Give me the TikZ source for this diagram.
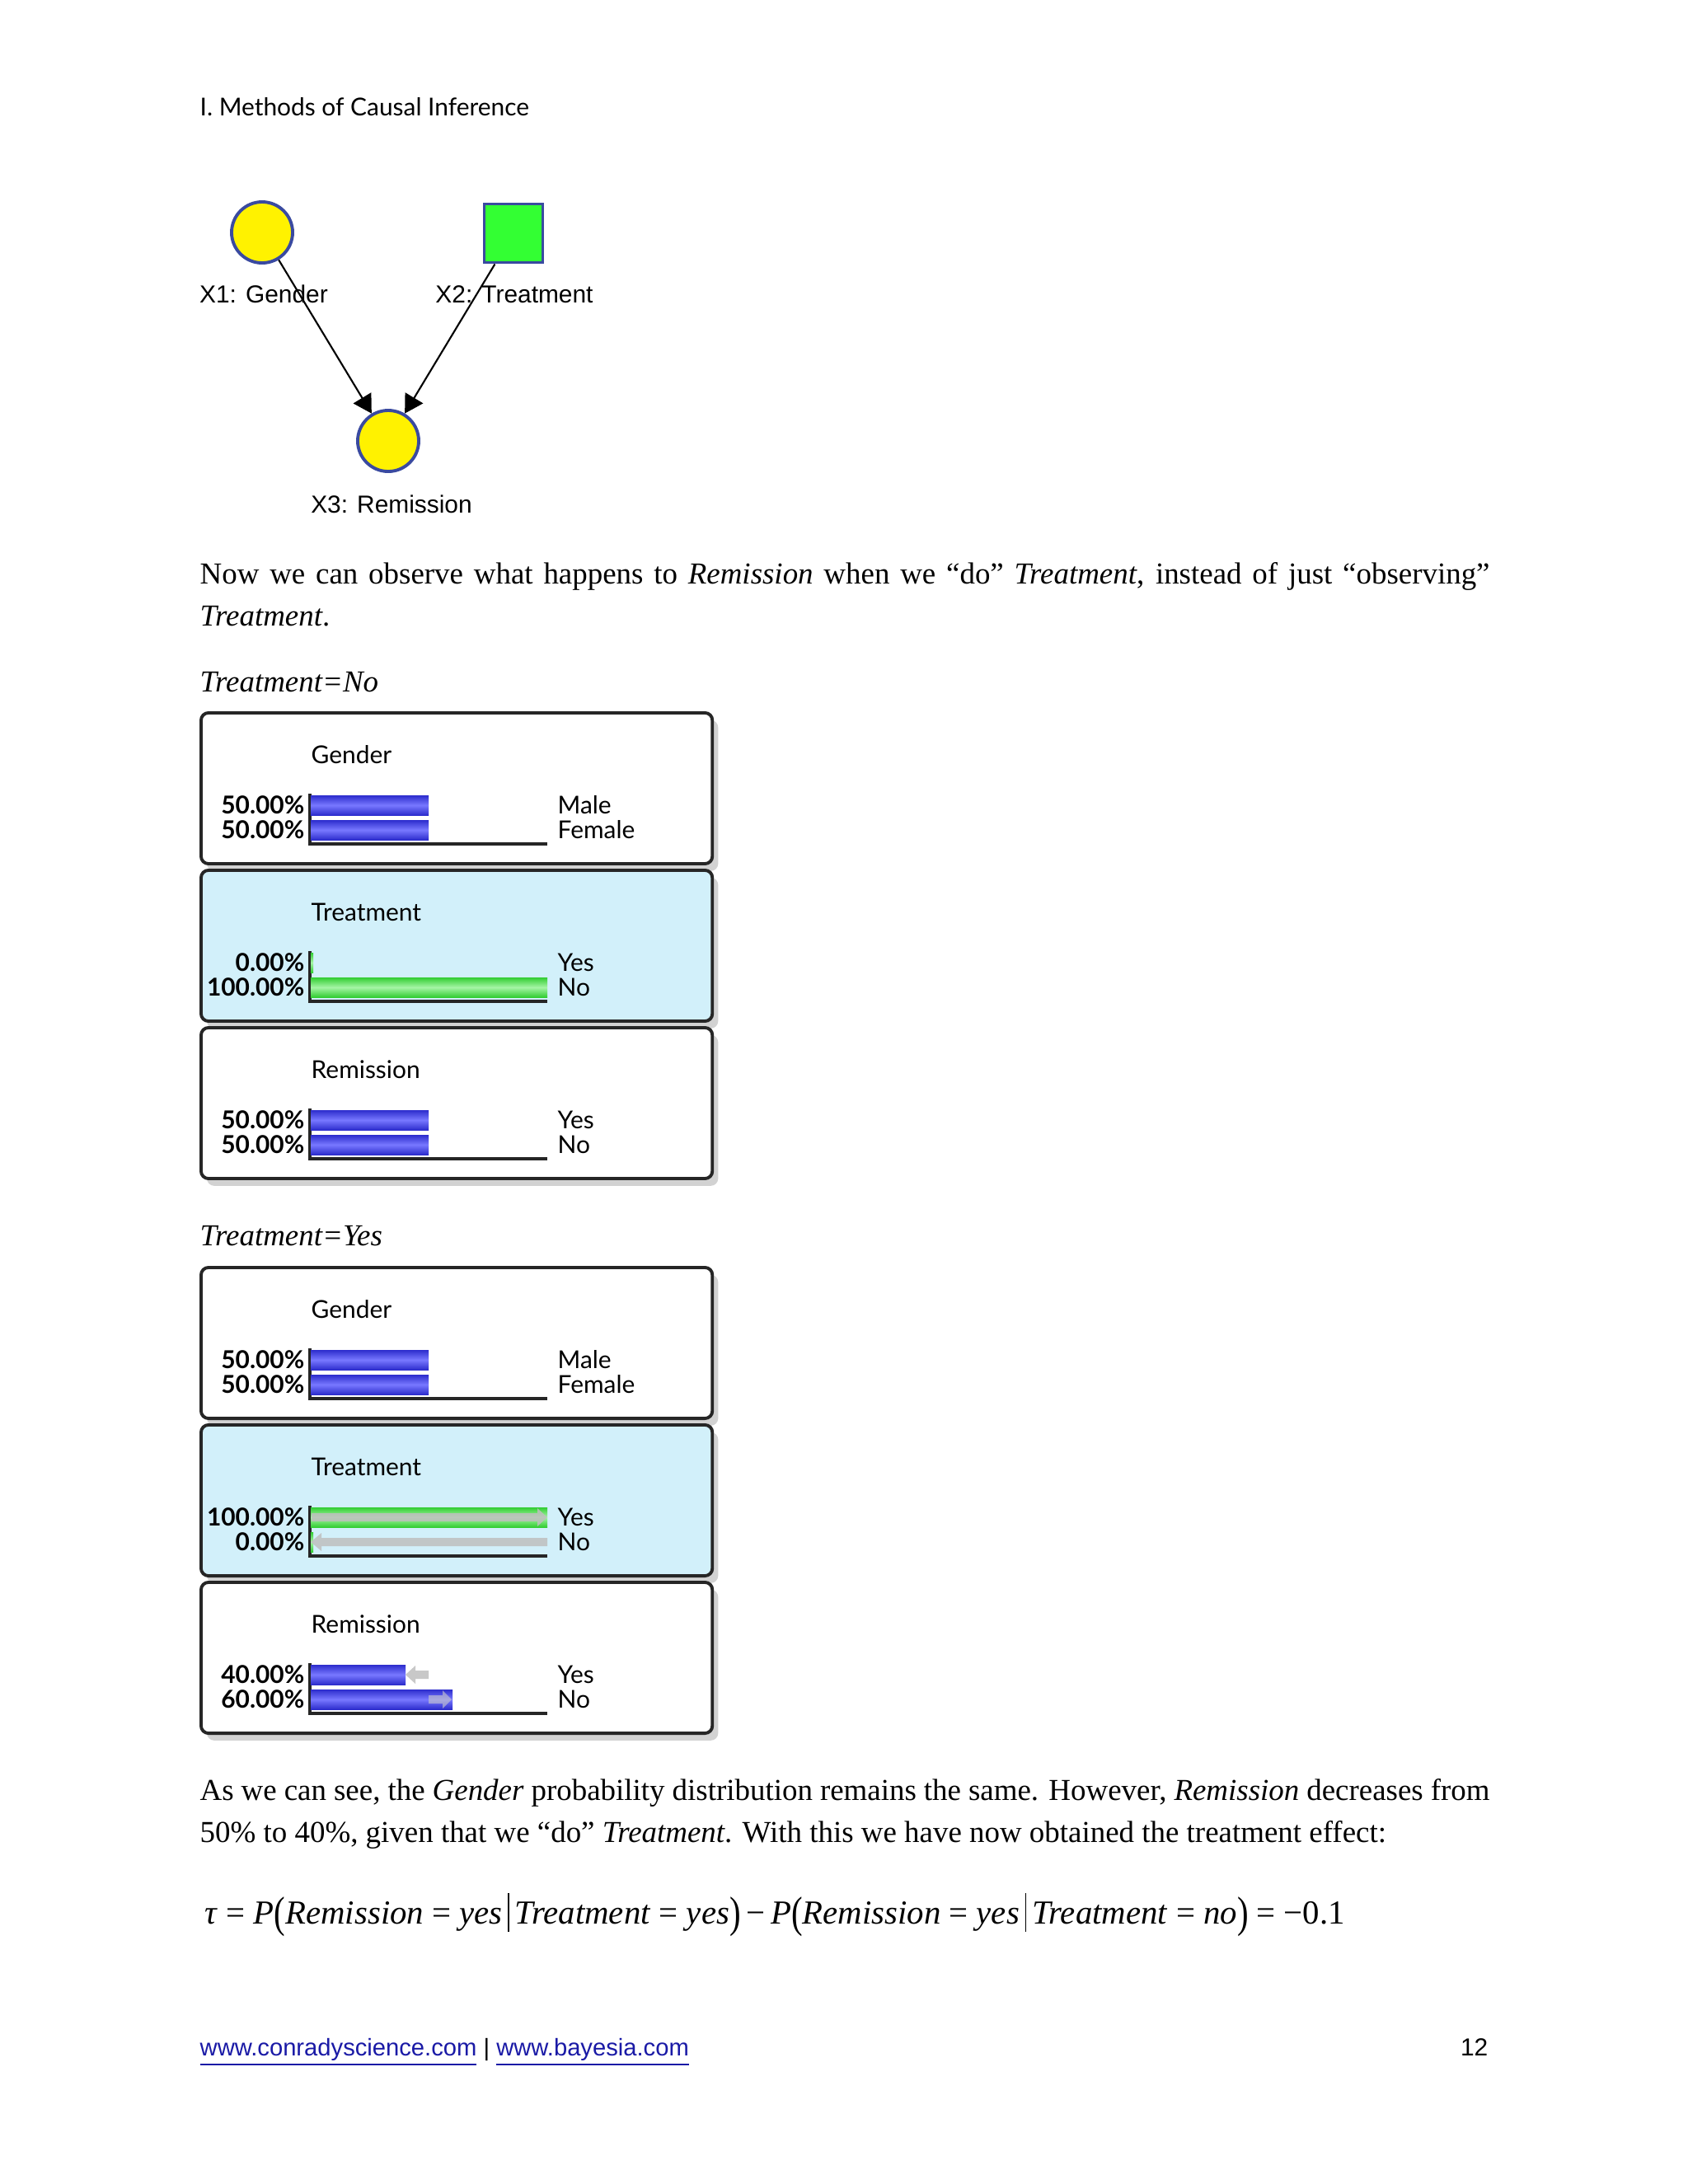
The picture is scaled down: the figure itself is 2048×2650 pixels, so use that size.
\documentclass[tikz,border=0pt]{standalone}
\usepackage{fontspec}
\setmainfont{Liberation Serif}
\newfontfamily\monfont{Lato}
\newfontfamily\arialfont{Liberation Sans}
\usepackage{xcolor}
\usepackage{graphicx}
\usepackage{tikz}
\usetikzlibrary{arrows.meta,positioning,shadows}
\definecolor{nodeblue}{RGB}{58,74,160}
\definecolor{nodegreen}{RGB}{51,255,51}
\definecolor{boxcyan}{RGB}{210,240,250}
\definecolor{bardark}{RGB}{45,45,205}
\definecolor{barlight}{RGB}{120,120,255}
\definecolor{greendark}{RGB}{50,205,50}
\definecolor{greenlight}{RGB}{165,245,165}
\definecolor{linkblue}{RGB}{26,26,166}
\tikzset{
  bncirc/.style={circle, draw=nodeblue, line width=1.1pt, fill=yellow,
                 minimum size=0.74cm, inner sep=0pt},
  bnsq/.style={rectangle, draw=nodeblue, line width=1.1pt, fill=nodegreen,
               minimum size=0.71cm, inner sep=0pt},
  bnlab/.style={font=\arialfont\fontsize{8.5}{10}\selectfont, inner sep=0pt},
  bnedge/.style={-{Triangle[length=0.22cm, width=0.25cm]}, line width=0.6pt},
  body/.style={font=\fontsize{10.5}{13}\selectfont, inner sep=0pt, anchor=base west},
  monframe/.style={draw=black!85, line width=1.1pt, rounded corners=0.09cm,
                   minimum width=6.2cm, minimum height=1.83cm, inner sep=0pt, anchor=north west,
                   drop shadow={shadow xshift=2pt, shadow yshift=-2.5pt, opacity=0.35}},
  montext/.style={font=\monfont\fontsize{8.5}{10}\selectfont, inner sep=0pt,
                  text height=6.1pt, text depth=0pt},
  monpct/.style={montext, font=\monfont\bfseries\fontsize{8.5}{10}\selectfont, anchor=east},
  monaxis/.style={draw=black!85, line width=1pt},
  bluebar/.style={top color=bardark, bottom color=bardark, middle color=barlight},
  greenbar/.style={top color=greendark, bottom color=greendark, middle color=greenlight},
  shiftgray/.style={fill=black!25, opacity=0.85},
  shiftpale/.style={fill=black!20, opacity=0.6},
}
\newcommand{\monbox}[4]{%
  \node[monframe, fill=#3] (#1) at (242,#2) {};
  \node[montext, anchor=west] (#1-title) at (377,#2+53) {#4};
  \draw[monaxis] (376,#2+100) -- (376,#2+161) -- (664,#2+161);
}
\newcommand{\monrow}[7]{%
  \node[monpct] (#1-pct) at (370,#2+#3) {#4};
  \path[#7] (377,#2+#3-12) rectangle ++(#5,24);
  \node[montext, anchor=west] (#1-state) at (676,#2+#3) {#6};
}
\newcommand{\shiftarrow}[5]{%
  \fill[#5] (#2,#1-5) -- (#3,#1-5) -- (#3,#1-11) -- (#4,#1) -- (#3,#1+11) -- (#3,#1+5) -- (#2,#1+5) -- cycle;
}
\newcommand{\bigpar}[1]{\raisebox{-0.12em}{\scalebox{1}[1.3]{#1}}}
\newcommand{\condbar}{\,\raisebox{-0.25em}{\rule{0.45pt}{1.15em}}\,}

\begin{document}
\begin{tikzpicture}[x=0.01cm, y=-0.01cm]
    \fill[white] (0,0) rectangle (2048,2650);
    \useasboundingbox (0,0) rectangle (2048,2650);

    \node[font=\monfont\fontsize{8.5}{10}\selectfont, inner sep=0pt, anchor=base west] (header) at (242,140) {I. Methods of Causal Inference};

    \node[bncirc] (gender) at (318,282) {};
    \node[bnsq] (treat) at (623,283) {};
    \node[bncirc] (remis) at (471,535) {};
    \node[bnlab] (gender-lab) at (320,357) {X1: Gender};
    \node[bnlab] (treat-lab) at (624,357) {X2: Treatment};
    \node[bnlab] (remis-lab) at (475,612) {X3: Remission};
    \draw[bnedge] (gender) -- (remis);
    \draw[bnedge] (treat) -- (remis);

    \node[body] (para1a) at (242,708) {\makebox[15.64cm][s]{Now we can observe what happens to \textit{Remission} when we “do” \textit{Treatment}, instead of just “observing”}};
    \node[body] (para1b) at (242,759) {\textit{Treatment}.};
    \node[body] (capno) at (242,839) {\textit{Treatment=No}};

    \monbox{g0}{863}{white}{Gender}
    \monrow{g0a}{863}{114}{50.00\%}{143}{Male}{bluebar}
    \monrow{g0b}{863}{144}{50.00\%}{143}{Female}{bluebar}
    \monbox{t0}{1054}{boxcyan}{Treatment}
    \monrow{t0a}{1054}{114}{0.00\%}{3}{Yes}{greenbar}
    \monrow{t0b}{1054}{144}{100.00\%}{287}{No}{greenbar}
    \monbox{r0}{1245}{white}{Remission}
    \monrow{r0a}{1245}{114}{50.00\%}{143}{Yes}{bluebar}
    \monrow{r0b}{1245}{144}{50.00\%}{143}{No}{bluebar}

    \node[body] (capyes) at (242,1511) {\textit{Treatment=Yes}};

    \monbox{g1}{1536}{white}{Gender}
    \monrow{g1a}{1536}{114}{50.00\%}{143}{Male}{bluebar}
    \monrow{g1b}{1536}{144}{50.00\%}{143}{Female}{bluebar}
    \monbox{t1}{1727}{boxcyan}{Treatment}
    \monrow{t1a}{1727}{114}{100.00\%}{287}{Yes}{greenbar}
    \monrow{t1b}{1727}{144}{0.00\%}{3}{No}{greenbar}
    \shiftarrow{1841}{378}{652}{664}{shiftgray}
    \shiftarrow{1871}{664}{390}{377}{shiftgray}
    \monbox{r1}{1918}{white}{Remission}
    \monrow{r1a}{1918}{114}{40.00\%}{115}{Yes}{bluebar}
    \monrow{r1b}{1918}{144}{60.00\%}{172}{No}{bluebar}
    \shiftarrow{2032}{520}{504}{492}{shiftgray}
    \shiftarrow{2062}{520}{537}{548}{shiftpale}

    \node[body] (para2a) at (242,2184) {\makebox[15.64cm][s]{As we can see, the \textit{Gender} probability distribution remains the same. However, \textit{Remission} decreases from}};
    \node[body] (para2b) at (242,2235) {50\% to 40\%, given that we “do” \textit{Treatment}. With this we have now obtained the treatment effect:};

    \node[body, font=\fontsize{11.6}{14}\selectfont] (formula) at (248,2334) {\textit{τ} = \textit{P}\bigpar{(}\textit{Remission} = \textit{yes}\condbar\textit{Treatment} = \textit{yes}\bigpar{)}\,−\,\textit{P}\bigpar{(}\textit{Remission} = \textit{yes}\condbar\textit{Treatment} = \textit{no}\bigpar{)} = −0.1};

    \node[body, font=\arialfont\fontsize{8.3}{10}\selectfont] (links) at (242,2494) {\textcolor{linkblue}{\underline{www.conradyscience.com}} | \textcolor{linkblue}{\underline{www.bayesia.com}}};
    \node[body, font=\arialfont\fontsize{8.5}{10}\selectfont, anchor=base east] (pageno) at (1806,2494) {12};
  \end{tikzpicture}
\end{document}
